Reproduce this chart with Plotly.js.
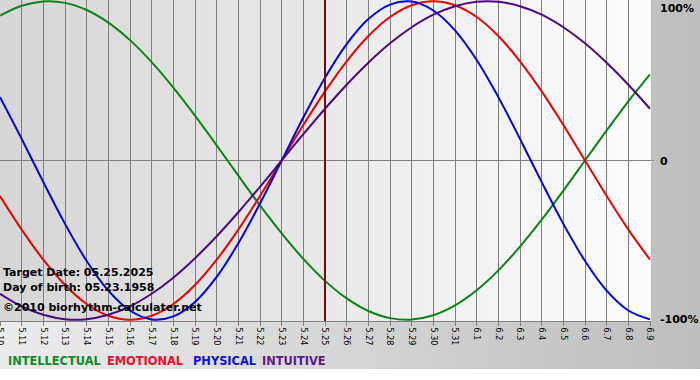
<!DOCTYPE html>
<html>
<head>
<meta charset="utf-8">
<script src="https://cdn.plot.ly/plotly-3.0.1.min.js"></script>
<style>
  html, body { margin: 0; padding: 0; background: #ffffff; }
  #wrap { position: relative; width: 700px; height: 380px; overflow: hidden; background: #ffffff; }
  #paperbg { position: absolute; left: 0; top: 0; width: 700px; height: 369px;
             background: linear-gradient(to right, #ececec, #bebebe); }
  #plotbg { position: absolute; left: 0; top: 0; width: 651px; height: 321px;
            background: linear-gradient(to right, #d6d6d6, #fdfdfd); }
  #chart { position: absolute; left: 0; top: 0; width: 700px; height: 380px; }
</style>
</head>
<body>
<div id="wrap">
  <div id="paperbg"></div>
  <div id="plotbg"></div>
  <div id="chart"></div>
</div>
<script>
// ---- data ----
const days = ['5.10','5.11','5.12','5.13','5.14','5.15','5.16','5.17','5.18','5.19','5.20',
              '5.21','5.22','5.23','5.24','5.25','5.26','5.27','5.28','5.29','5.30','5.31',
              '6.1','6.2','6.3','6.4','6.5','6.6','6.7','6.8','6.9'];

const intellectual = [0.910, 0.972, 0.999, 0.990, 0.945, 0.866, 0.756, 0.618, 0.458, 0.282, 0.095,
                      -0.095, -0.282, -0.458, -0.618, -0.756, -0.866, -0.945, -0.990, -0.999, -0.972, -0.910,
                      -0.815, -0.690, -0.541, -0.372, -0.189, 0.000, 0.189, 0.372, 0.541];

const emotional = [-0.223, -0.434, -0.623, -0.782, -0.901, -0.975, -1.000, -0.975, -0.901, -0.782, -0.623,
                   -0.434, -0.223, 0.000, 0.223, 0.434, 0.623, 0.782, 0.901, 0.975, 1.000, 0.975,
                   0.901, 0.782, 0.623, 0.434, 0.223, 0.000, -0.223, -0.434, -0.623];

const physical = [0.398, 0.136, -0.136, -0.398, -0.631, -0.817, -0.942, -0.998, -0.979, -0.888, -0.731,
                  -0.520, -0.270, 0.000, 0.270, 0.520, 0.731, 0.888, 0.979, 0.998, 0.942, 0.817,
                  0.631, 0.398, 0.136, -0.136, -0.398, -0.631, -0.817, -0.942, -0.998];

const intuitive = [-0.837, -0.916, -0.969, -0.997, -0.997, -0.969, -0.916, -0.837, -0.736, -0.614, -0.476,
                   -0.325, -0.165, 0.000, 0.165, 0.325, 0.476, 0.614, 0.736, 0.837, 0.916, 0.969,
                   0.997, 0.997, 0.969, 0.916, 0.837, 0.736, 0.614, 0.476, 0.325];

const seriesNames = ['INTELLECTUAL', 'EMOTIONAL', 'PHYSICAL', 'INTUITIVE'];
const yTickVals = [1, 0, -1];
const yTickText = ['100%', '0', '-100%'];
const targetDay = '5.25';
const targetDate = '05.25.2025';
const birthDate = '05.23.1958';
const copyrightText = '©2010 biorhythm-calculater.net';

// ---- styles ----
const colors = ['#0a8416', '#ee0000', '#0000dd', '#4b0a82'];
const legendColors = ['#108a28', '#e8102a', '#1010dd', '#5a1a8a'];
const legendX = [8, 107, 193, 262];
const fontFam = 'DejaVu Sans, Verdana, sans-serif';

const seriesData = [intellectual, emotional, physical, intuitive];
const traces = seriesData.map((vals, i) => ({
  type: 'scatter',
  mode: 'lines',
  x: days,
  y: vals,
  name: seriesNames[i],
  line: { color: colors[i], width: 2, shape: 'spline', smoothing: 1 },
  hoverinfo: 'skip'
}));

const targetIdx = days.indexOf(targetDay);

const annotations = [];
const yShift = [-7, -1, 0];
yTickVals.forEach((v, i) => {
  annotations.push({
    xref: 'paper', yref: 'y', x: 1, y: v,
    xanchor: 'left', yanchor: 'middle',
    xshift: 7, yshift: yShift[i],
    text: '<b>' + yTickText[i] + '</b>', showarrow: false,
    font: { family: fontFam, size: 11, color: '#000000' }
  });
});

const infoLines = ['Target Date: ' + targetDate, 'Day of birth: ' + birthDate, copyrightText];
const infoY = [272, 287, 307];
infoLines.forEach((t, i) => {
  annotations.push({
    xref: 'paper', yref: 'paper', x: 0, y: 1 - infoY[i] / 321,
    xanchor: 'left', yanchor: 'middle', xshift: 1,
    text: '<b>' + t + '</b>', showarrow: false,
    font: { family: fontFam, size: 11, color: '#000000' }
  });
});

seriesNames.forEach((n, i) => {
  annotations.push({
    xref: 'paper', yref: 'paper', x: 0, y: 1 - 361 / 321,
    xanchor: 'left', yanchor: 'middle', xshift: legendX[i] - 2,
    text: '<b>' + n + '</b>', showarrow: false,
    font: { family: fontFam, size: 11.4, color: legendColors[i] }
  });
});

const layout = {
  width: 700, height: 380,
  margin: { l: 0, r: 49, t: 0, b: 59, pad: 0 },
  paper_bgcolor: 'rgba(0,0,0,0)',
  plot_bgcolor: 'rgba(0,0,0,0)',
  showlegend: false,
  xaxis: {
    type: 'category',
    range: [0, 30.046],
    showgrid: true, gridcolor: '#808080', gridwidth: 1,
    showline: true, linecolor: '#808080', linewidth: 1, mirror: true,
    ticks: 'outside', ticklen: 4, tickcolor: '#808080',
    tickangle: 90,
    tickfont: { family: fontFam, size: 8, color: '#000000' },
    zeroline: false, fixedrange: true
  },
  yaxis: {
    range: [-1.008, 1.008],
    side: 'right',
    tickvals: [0],
    showticklabels: false,
    ticks: 'outside', ticklen: 2, tickcolor: '#808080',
    showgrid: true, gridcolor: '#808080', gridwidth: 1,
    zeroline: false, showline: false, fixedrange: true
  },
  shapes: [{
    type: 'line', xref: 'x', yref: 'paper',
    x0: targetIdx, x1: targetIdx, y0: 0, y1: 1,
    line: { color: '#7a0a0a', width: 2 }
  }],
  annotations: annotations
};

Plotly.newPlot('chart', traces, layout, { displayModeBar: false, staticPlot: true });
</script>
</body>
</html>
